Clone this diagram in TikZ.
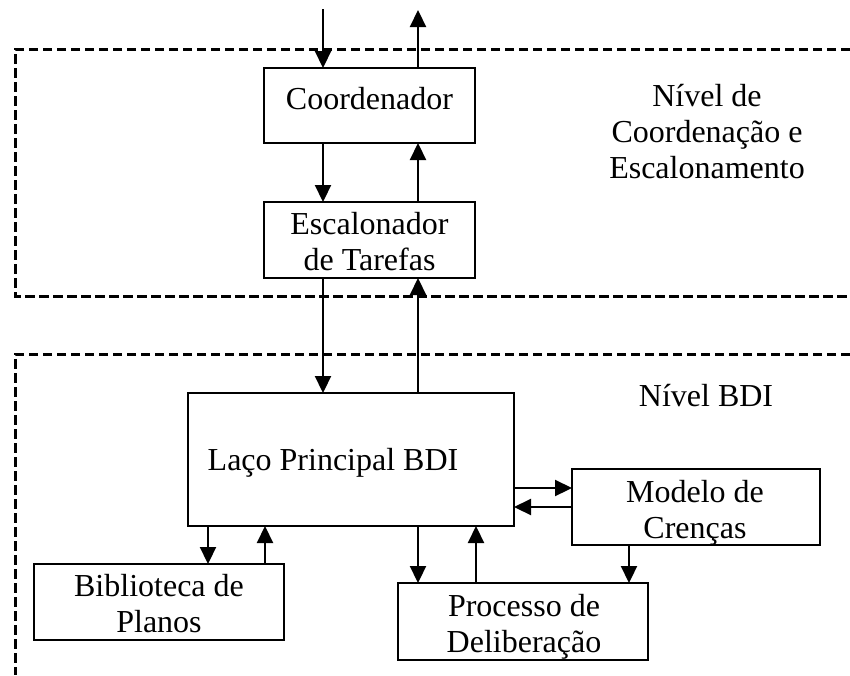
\documentclass[tikz,border=0pt]{standalone}
\usepackage{fontspec}
\setmainfont{Liberation Serif}
\usetikzlibrary{arrows.meta}
\begin{document}
\begin{tikzpicture}[x=1pt,y=-1pt,
  box/.style={draw, line width=2.2pt, inner sep=0pt, outer sep=0pt},
  lbl/.style={anchor=base, inner sep=0pt, outer sep=0pt, font=\fontsize{32}{36}\selectfont},
  arr/.style={line width=2.2pt, -{Triangle[length=17pt,width=16pt]}},
  zone/.style={line width=3pt, dash pattern=on 9.5pt off 4.5pt}]
\useasboundingbox (0,0) rectangle (850,675);
% dashed zones
\draw[zone] (850,49) -- (15,49) -- (15,296) -- (850,296);
\draw[zone] (850,354) -- (15,354) -- (15,675);
% boxes
\node[box, minimum width=211pt, minimum height=75pt] (coord) at (369.5,105.5) {};
\node[box, minimum width=211pt, minimum height=76pt] (esc) at (369.5,240) {};
\node[box, minimum width=326pt, minimum height=133pt] (laco) at (351,459.5) {};
\node[box, minimum width=248pt, minimum height=76pt] (modelo) at (696,507) {};
\node[box, minimum width=250pt, minimum height=76pt] (bib) at (159,602) {};
\node[box, minimum width=250pt, minimum height=77pt] (proc) at (523,621.5) {};
% texts
\node[lbl] (tcoord) at (369.5,109) {Coordenador};
\node[lbl] (tesc1) at (369.5,234) {Escalonador};
\node[lbl] (tesc2) at (369.5,270) {de Tarefas};
\node[lbl] (tniv1) at (707,106) {Nível de};
\node[lbl] (tniv2) at (707,142) {Coordenação e};
\node[lbl] (tniv3) at (707,178) {Escalonamento};
\node[lbl] (tbdi) at (706,406) {Nível BDI};
\node[lbl] (tlaco) at (333,470) {Laço Principal BDI};
\node[lbl] (tmod1) at (695,502) {Modelo de};
\node[lbl] (tmod2) at (695,538) {Crenças};
\node[lbl] (tbib1) at (159,596) {Biblioteca de};
\node[lbl] (tbib2) at (159,632) {Planos};
\node[lbl] (tproc1) at (524,616) {Processo de};
\node[lbl] (tproc2) at (524,652) {Deliberação};
% reference coordinates
\coordinate (in1) at (323,9);
\coordinate (out1) at (418,10);
\coordinate (hr) at (0,488);
\coordinate (hl) at (0,507);
\coordinate (bd) at (208,0);
\coordinate (bu) at (265,0);
\coordinate (pd) at (418,0);
\coordinate (pu) at (476,0);
\coordinate (md) at (629,0);
% connectors
\draw[arr] (in1) -- (coord.north -| in1);
\draw[arr] (coord.north -| out1) -- (out1);
\draw[arr] (coord.south -| in1) -- (esc.north -| in1);
\draw[arr] (esc.north -| out1) -- (coord.south -| out1);
\draw[arr] (esc.south -| in1) -- (laco.north -| in1);
\draw[arr] (laco.north -| out1) -- (esc.south -| out1);
\draw[arr] (laco.east |- hr) -- (modelo.west |- hr);
\draw[arr] (modelo.west |- hl) -- (laco.east |- hl);
\draw[arr] (laco.south -| bd) -- (bib.north -| bd);
\draw[arr] (bib.north -| bu) -- (laco.south -| bu);
\draw[arr] (laco.south -| pd) -- (proc.north -| pd);
\draw[arr] (proc.north -| pu) -- (laco.south -| pu);
\draw[arr] (modelo.south -| md) -- (proc.north -| md);
\end{tikzpicture}
\end{document}
